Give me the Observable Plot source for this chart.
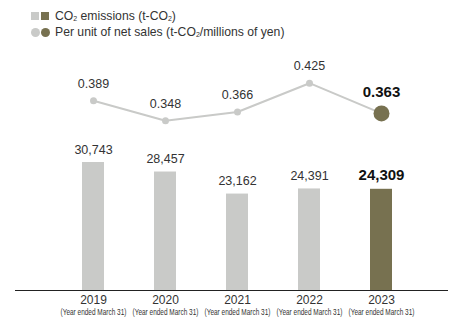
<!DOCTYPE html>
<html><head><meta charset="utf-8">
<script src="https://cdn.jsdelivr.net/npm/d3@7"></script>
<script src="https://cdn.jsdelivr.net/npm/@observablehq/plot@0.6"></script>
<style>
html,body{margin:0;padding:0;background:#fff;width:450px;height:320px;overflow:hidden;font-family:"Liberation Sans",Arial,sans-serif;}
#legend{height:40px;position:relative;font-size:12.2px;color:#333;}
.row{position:absolute;left:31px;display:flex;align-items:center;height:14px;}
.sw{display:inline-block;width:8px;height:8px;margin-right:2px;}
.ci{display:inline-block;width:9px;height:9px;border-radius:50%;margin-right:1px;}
.lab{margin-left:4px;white-space:nowrap;}
sub{font-size:7px;vertical-align:-1px;line-height:0;}
#chart{position:relative;width:450px;height:280px;}
#chart svg{position:absolute;left:0;top:0;}
</style></head>
<body>
<div id="legend">
  <div class="row" style="top:9px"><span class="sw" style="background:#c9cac8"></span><span class="sw" style="background:#777150"></span><span class="lab">CO<sub>2</sub> emissions (t-CO<sub>2</sub>)</span></div>
  <div class="row" style="top:25px"><span class="ci" style="background:#c9cac8"></span><span class="ci" style="background:#777150"></span><span class="lab">Per unit of net sales (t-CO<sub>2</sub>/millions of yen)</span></div>
</div>
<div id="chart"></div>
<script>
const years = ["2019","2020","2021","2022","2023"];
const emissions = [30743, 28457, 23162, 24391, 24309];
const intensity = [0.389, 0.348, 0.366, 0.425, 0.363];
const subLabel = "(Year ended March 31)";
const latestYear = "2023";

const grey = "#c9cac8", olive = "#777150";
const data = years.map((y, i) => ({year: y, emissions: emissions[i], intensity: intensity[i], latest: y === latestYear}));
const past = data.filter(d => !d.latest), last = data.filter(d => d.latest);

const common = {
  width: 450, height: 280, marginTop: 0, marginBottom: 30, marginLeft: 15, marginRight: 2,
  style: {fontFamily: "'Liberation Sans', Arial, sans-serif", background: "transparent", overflow: "visible"}
};
const xScale = {type: "band", domain: years, range: [57, 417], paddingInner: 0.694, paddingOuter: 0.347};

const bars = Plot.plot({
  ...common,
  x: {...xScale, axis: null},
  y: {domain: [0, 30743], range: [250, 122], axis: null},
  marks: [
    Plot.barY(data, {x: "year", y: "emissions", fill: d => d.latest ? olive : grey}),
    Plot.ruleY([0], {stroke: "#222", strokeWidth: 1}),
    Plot.text(past, {x: "year", y: "emissions", text: d => d3.format(",")(d.emissions), dy: -13, fontSize: 12.5, fill: "#333"}),
    Plot.text(last, {x: "year", y: "emissions", text: d => d3.format(",")(d.emissions), dy: -14, fontSize: 15, fontWeight: "bold", fill: "#111"}),
    Plot.text(data, {x: "year", y: 0, text: d => d.year, dy: 10, fontSize: 12, fill: "#333"}),
    Plot.text(data, {x: "year", y: 0, text: () => subLabel, dy: 22, fontSize: 9, fill: "#333"})
  ]
});

const line = Plot.plot({
  ...common,
  x: {...xScale, axis: null},
  y: {domain: [0, 0.425], range: [250, 42.7], axis: null},
  marks: [
    Plot.line(data, {x: "year", y: "intensity", stroke: grey, strokeWidth: 2}),
    Plot.dot(past, {x: "year", y: "intensity", r: 3.5, fill: grey}),
    Plot.dot(last, {x: "year", y: "intensity", r: 8, fill: olive}),
    Plot.text(past, {x: "year", y: "intensity", text: d => d3.format(".3f")(d.intensity), dy: -17, fontSize: 12.5, fill: "#333"}),
    Plot.text(last, {x: "year", y: "intensity", text: d => d3.format(".3f")(d.intensity), dy: -21, fontSize: 15, fontWeight: "bold", fill: "#111"})
  ]
});

const chart = document.getElementById("chart");
chart.appendChild(bars);
chart.appendChild(line);
d3.select(bars).selectAll("text")
  .filter(function() { return this.textContent === subLabel; })
  .each(function() {
    const len = this.getComputedTextLength();
    const k = len > 0 ? 66 / len : 0.75;
    const t = this.getAttribute("transform") || "";
    this.setAttribute("transform", t + " scale(" + k + ",1)");
  });
</script>
</body></html>
